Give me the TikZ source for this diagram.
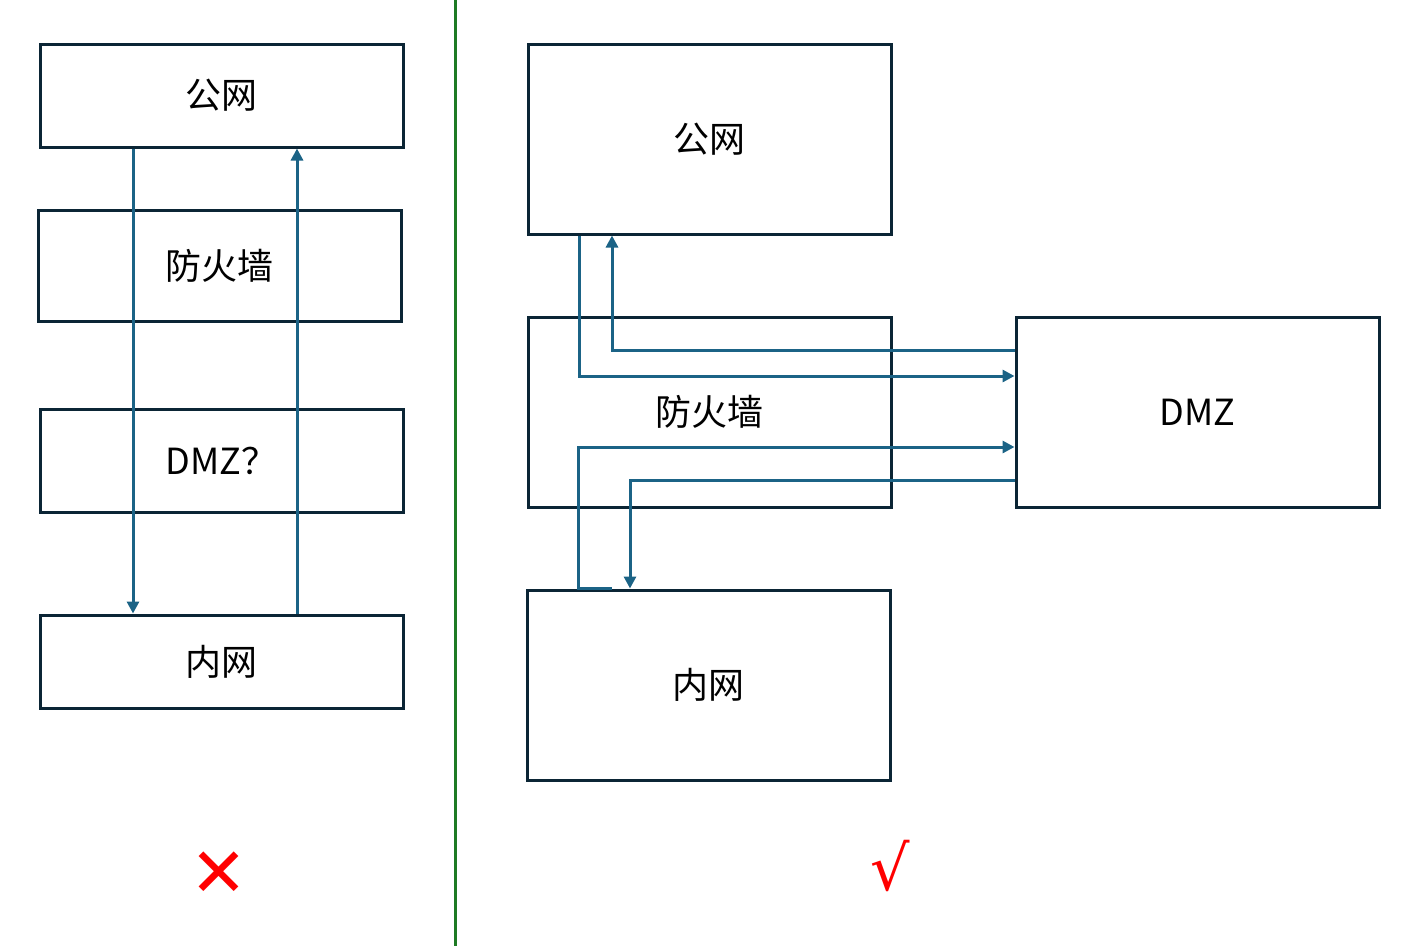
\documentclass[tikz,border=0pt]{standalone}
\usepackage{fontspec}
\setmainfont{Noto Sans CJK SC}
\newfontfamily\symfont{DejaVu Sans}
\usetikzlibrary{arrows.meta}
\definecolor{boxc}{HTML}{0B2535}
\definecolor{arrc}{HTML}{1B6386}
\definecolor{divc}{HTML}{1E7A24}
\tikzset{
  box/.style={draw=boxc, line width=3pt, inner sep=0pt, font=\fontsize{36}{42}\selectfont, text=black},
  lbox/.style={box, minimum width=363pt, minimum height=103pt},
  rbox/.style={box, minimum width=363pt, minimum height=190pt},
  conn/.style={draw=arrc, line width=3pt},
  arr/.style={conn, -{Triangle[length=12pt,width=12pt]}},
  verdict/.style={text=red, inner sep=0pt}
}
\begin{document}
\begin{tikzpicture}[x=1pt, y=-1pt]
\useasboundingbox (0,0) rectangle (1405,946);
% divider
\coordinate (dtop) at (455,0);
\coordinate (dbot) at (455,946);
\draw[divc, line width=3pt] (dtop) -- (dbot);
% left column
\node[lbox] (lgw) at (221.5,95.5) {公网};
\node[lbox, minimum height=111pt] (lfw) at (219.5,265.5) {防火墙};
\node[lbox] (ldmz) at (221.5,460.5) {DMZ？};
\node[lbox, minimum height=93pt] (lnw) at (221.5,661.5) {内网};
\coordinate (la1) at (133,0);
\coordinate (la2) at (297,0);
\draw[arr] (lgw.south -| la1) -- (lnw.north -| la1);
\draw[arr] (lnw.north -| la2) -- (lgw.south -| la2);
\node[verdict, font={\symfont\bfseries\fontsize{68}{68}\selectfont}] (cross) at (219,874) {✕};
% right column
\node[rbox] (rgw) at (709.5,139) {公网};
\node[rbox] (rfw) at (709.5,412) {防火墙};
\node[rbox] (rdmz) at (1197.5,412) {DMZ};
\node[rbox] (rnw) at (708.5,685) {内网};
\coordinate (x1) at (579,376);
\coordinate (x2) at (612,350);
\coordinate (x3) at (578,447);
\coordinate (x4) at (630,480);
\coordinate (x5) at (612,0);
\draw[arr] (rgw.south -| x1) -- (x1) -- (x1 -| rdmz.west);
\draw[arr] (x2 -| rdmz.west) -- (x2) -- (rgw.south -| x2);
\draw[arr] (rnw.north -| x5) -- (rnw.north -| x3) -- (x3) -- (x3 -| rdmz.west);
\draw[arr] (x4 -| rdmz.west) -- (x4) -- (rnw.north -| x4);
\node[verdict, font={\symfont\fontsize{62}{62}\selectfont}] (check) at (890,866) {√};
\end{tikzpicture}
\end{document}
